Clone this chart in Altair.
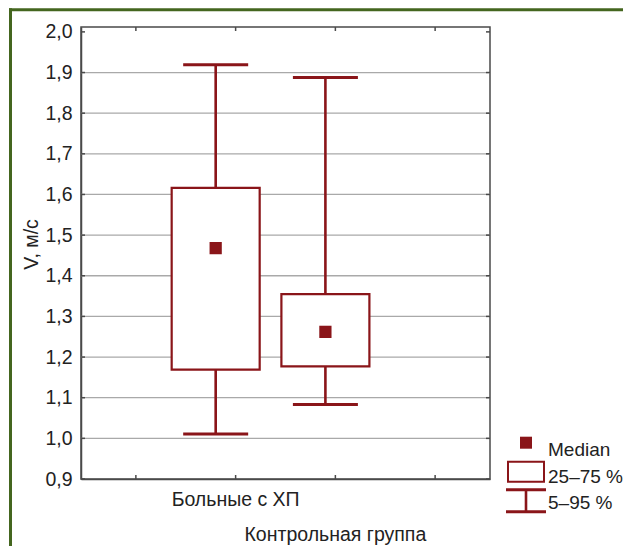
import altair as alt
import pandas as pd

# ---- data ----
groups = ["Больные с ХП", "Контрольная группа"]
group_x = [1.30, 2.40]          # box centres on the 0..4 category axis
p05 = [1.011, 1.083]
q1 = [1.169, 1.177]
median = [1.468, 1.262]
q3 = [1.616, 1.355]
p95 = [1.919, 1.888]

y_ticks = [0.9, 1.0, 1.1, 1.2, 1.3, 1.4, 1.5, 1.6, 1.7, 1.8, 1.9, 2.0]
grid_values = [1.0, 1.1, 1.2, 1.3, 1.4, 1.5, 1.6, 1.7, 1.8, 1.9]
x_ticks = [0.5, 1.5, 2.5, 3.5]
x_label_text = ["Больные с ХП", "Контрольная группа"]
x_label_pos = [1.5, 2.5]
legend_items = ["Median", "25–75 %", "5–95 %"]
y_title = "V, м/с"

# ---- style ----
RED = "#8a1519"
TXT = "#222222"
FRAME = "#4a4a4a"
GREEN = "#44661f"
FONT = "Liberation Sans, Arial, sans-serif"
FS = 19.5
W, H = 409, 452

df = pd.DataFrame({"group": groups, "x": group_x, "p05": p05, "q1": q1,
                   "median": median, "q3": q3, "p95": p95})

xs = alt.Scale(domain=[0, 4], nice=False, zero=False)
ys = alt.Scale(domain=[0.9, 2.012], nice=False, zero=False)

X = alt.X("x:Q", scale=xs, axis=alt.Axis(values=x_ticks, labels=False, ticks=False,
                                          grid=False, title=None, domainColor=FRAME,
                                          domainWidth=1.5))
Y_AX = alt.Axis(values=y_ticks, grid=False, ticks=False, title=y_title,
                labelExpr="replace(format(datum.value, '.1f'), '.', ',')",
                labelFont=FONT, labelFontSize=FS, labelColor=TXT, labelPadding=9,
                domainColor=FRAME, domainWidth=1.5,
                titleFont=FONT, titleFontSize=FS, titleColor=TXT, titleFontWeight="normal",
                titleAngle=270, titleAlign="center", titleBaseline="middle",
                titleX=-50, titleY=217)

base = alt.Chart(df)

grid = alt.Chart(pd.DataFrame({"v": grid_values})).mark_rule(
    color="#a9a9a9", strokeWidth=1.3).encode(y=alt.Y("v:Q", scale=ys, axis=Y_AX))

whisk_hi = base.mark_rule(color=RED, strokeWidth=2.6).encode(
    x=X, y=alt.Y("q3:Q", scale=ys), y2="p95:Q")
whisk_lo = base.mark_rule(color=RED, strokeWidth=2.6).encode(
    x="x:Q", y=alt.Y("p05:Q", scale=ys), y2="q1:Q")
cap_hi = base.mark_tick(color=RED, orient="horizontal", size=65, thickness=3, opacity=1).encode(
    x="x:Q", y=alt.Y("p95:Q", scale=ys))
cap_lo = base.mark_tick(color=RED, orient="horizontal", size=65, thickness=3, opacity=1).encode(
    x="x:Q", y=alt.Y("p05:Q", scale=ys))
boxes = base.mark_bar(size=88, fill="white", stroke=RED, strokeWidth=2.2).encode(
    x="x:Q", y=alt.Y("q1:Q", scale=ys), y2="q3:Q")
med = base.mark_square(size=150, color=RED, opacity=1).encode(
    x="x:Q", y=alt.Y("median:Q", scale=ys))

yt = pd.DataFrame({"v": y_ticks})
xt = pd.DataFrame({"v": x_ticks})
tick_l = alt.Chart(yt).mark_rule(color=FRAME, strokeWidth=1.5).encode(
    y=alt.Y("v:Q", scale=ys), x=alt.value(0), x2=alt.value(4))
tick_r = alt.Chart(yt).mark_rule(color=FRAME, strokeWidth=1.5).encode(
    y=alt.Y("v:Q", scale=ys), x=alt.value(W - 4), x2=alt.value(W))
tick_b = alt.Chart(xt).mark_rule(color=FRAME, strokeWidth=1.5).encode(
    x=alt.X("v:Q", scale=xs), y=alt.value(H - 4), y2=alt.value(H))
tick_t = alt.Chart(xt).mark_rule(color=FRAME, strokeWidth=1.5).encode(
    x=alt.X("v:Q", scale=xs), y=alt.value(0), y2=alt.value(4))

lab = pd.DataFrame({"t": x_label_text, "v": x_label_pos})
lab1 = alt.Chart(lab.iloc[[0]]).mark_text(font=FONT, fontSize=FS, color=TXT, baseline="alphabetic").encode(
    x=alt.X("v:Q", scale=xs), y=alt.value(H + 26.5), text="t:N")
lab2 = alt.Chart(lab.iloc[[1]]).mark_text(font=FONT, fontSize=FS, color=TXT, baseline="alphabetic").encode(
    x=alt.X("v:Q", scale=xs), y=alt.value(H + 62), text="t:N")

# ---- hand-drawn legend (Statistica style) ----
one = alt.Data(values=[{"a": 1}])
LX = 445       # legend symbol centre, px from plot left
leg_sq = alt.Chart(one).mark_square(size=144, color=RED, opacity=1).encode(
    x=alt.value(LX), y=alt.value(415.7))
leg_box = alt.Chart(one).mark_rect(fill="white", stroke=RED, strokeWidth=2).encode(
    x=alt.value(LX - 18), x2=alt.value(LX + 18), y=alt.value(434.7), y2=alt.value(454.7))
leg_w1 = alt.Chart(one).mark_rule(color=RED, strokeWidth=3).encode(
    x=alt.value(LX - 20), x2=alt.value(LX + 20), y=alt.value(462.7))
leg_w2 = alt.Chart(one).mark_rule(color=RED, strokeWidth=3).encode(
    x=alt.value(LX - 20), x2=alt.value(LX + 20), y=alt.value(484.7))
leg_w3 = alt.Chart(one).mark_rule(color=RED, strokeWidth=2.6).encode(
    x=alt.value(LX), y=alt.value(462.7), y2=alt.value(484.7))
leg_txt = []
for item, yb in zip(legend_items, [428.7, 455.7, 481.7]):
    leg_txt.append(alt.Chart(alt.Data(values=[{"t": item}])).mark_text(
        font=FONT, fontSize=19, color=TXT, align="left", baseline="alphabetic").encode(
        x=alt.value(LX + 22), y=alt.value(yb), text="t:N"))

border_l = alt.Chart(one).mark_rule(color=GREEN, strokeWidth=3).encode(
    x=alt.value(-70.5), y=alt.value(-18.8), y2=alt.value(H + 90))
border_t = alt.Chart(one).mark_rule(color=GREEN, strokeWidth=3).encode(
    x=alt.value(-72), x2=alt.value(W + 150), y=alt.value(-17.3))

chart = alt.layer(grid, whisk_hi, whisk_lo, cap_hi, cap_lo, boxes, med,
                  tick_l, tick_r, tick_b, tick_t, lab1, lab2,
                  leg_sq, leg_box, leg_w1, leg_w2, leg_w3, *leg_txt,
                  border_l, border_t
                  ).properties(
    width=W, height=H,
    autosize=alt.AutoSizeParams(type="none"),
    padding={"left": 73, "top": 19, "right": 133, "bottom": 67},
    background="white",
).configure_view(stroke=FRAME, strokeWidth=1.5)

chart.save("out.html", embed_options={"renderer": "svg", "actions": False})
